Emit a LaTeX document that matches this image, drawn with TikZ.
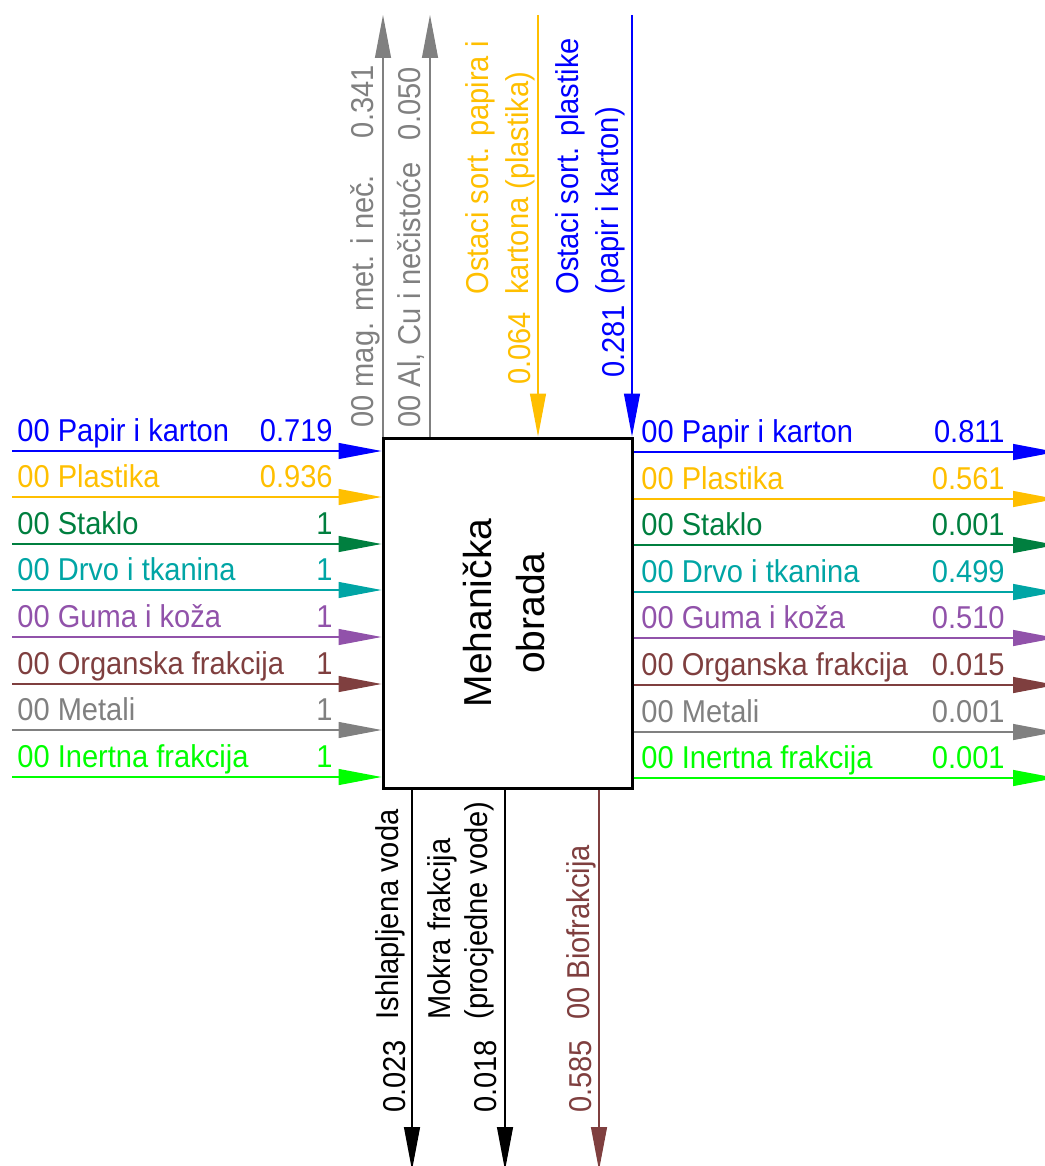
\documentclass[tikz,border=0pt]{standalone}
\usepackage{fontspec}
\usepackage{graphicx}
\setmainfont{Liberation Sans}
\newfontfamily\lblfamily[FakeStretch=0.92]{Liberation Sans}
\usetikzlibrary{arrows.meta}
\definecolor{flowblue}{RGB}{0,0,255}
\definecolor{floworange}{RGB}{255,191,0}
\definecolor{flowgreen}{RGB}{0,127,63}
\definecolor{flowteal}{RGB}{0,165,165}
\definecolor{flowpurple}{RGB}{145,82,170}
\definecolor{flowbrown}{RGB}{127,63,63}
\definecolor{flowgray}{RGB}{128,128,128}
\definecolor{flowlime}{RGB}{0,255,0}
\newcommand{\lblfont}{\lblfamily\fontsize{15.8pt}{19pt}\selectfont}
\newcommand{\boxfont}{\fontsize{19.5pt}{26.5pt}\selectfont}
\begin{document}
\begin{tikzpicture}[x=0.5pt,y=-0.5pt,
  flow/.style={line width=0.6pt,-{Triangle[length=21.5pt,width=8pt]}},
  lbl/.style={inner sep=0pt,font=\lblfont},
  vlbl/.style={lbl,rotate=90}]
\useasboundingbox (0,0) rectangle (1044,1166);
\node[draw,line width=1.5pt,minimum width=124.5pt,minimum height=175pt,inner sep=0pt] (obrada) at (507.5,613) {\rotatebox{90}{\boxfont\begin{tabular}{@{}c@{}}Mehanička\\obrada\end{tabular}}};

\coordinate (inpapir) at (12,451);
\coordinate (inplastika) at (12,497);
\coordinate (instaklo) at (12,544);
\coordinate (indrvo) at (12,590);
\coordinate (inguma) at (12,637);
\coordinate (inorg) at (12,684);
\coordinate (inmetali) at (12,730);
\coordinate (ininert) at (12,777);

\draw[flow,flowblue] (inpapir)--(inpapir -| obrada.west);
\draw[flow,floworange] (inplastika)--(inplastika -| obrada.west);
\draw[flow,flowgreen] (instaklo)--(instaklo -| obrada.west);
\draw[flow,flowteal] (indrvo)--(indrvo -| obrada.west);
\draw[flow,flowpurple] (inguma)--(inguma -| obrada.west);
\draw[flow,flowbrown] (inorg)--(inorg -| obrada.west);
\draw[flow,flowgray] (inmetali)--(inmetali -| obrada.west);
\draw[flow,flowlime] (ininert)--(ininert -| obrada.west);

\node[lbl,flowblue,anchor=base west] (linpapir) at (17,441) {00 Papir i karton};
\node[lbl,flowblue,anchor=base east] (vinpapir) at (333,441) {0.719};
\node[lbl,floworange,anchor=base west] (linplastika) at (17,487) {00 Plastika};
\node[lbl,floworange,anchor=base east] (vinplastika) at (333,487) {0.936};
\node[lbl,flowgreen,anchor=base west] (linstaklo) at (17,534) {00 Staklo};
\node[lbl,flowgreen,anchor=base east] (vinstaklo) at (333,534) {1};
\node[lbl,flowteal,anchor=base west] (lindrvo) at (17,580) {00 Drvo i tkanina};
\node[lbl,flowteal,anchor=base east] (vindrvo) at (333,580) {1};
\node[lbl,flowpurple,anchor=base west] (linguma) at (17,627) {00 Guma i koža};
\node[lbl,flowpurple,anchor=base east] (vinguma) at (333,627) {1};
\node[lbl,flowbrown,anchor=base west] (linorg) at (17,674) {00 Organska frakcija};
\node[lbl,flowbrown,anchor=base east] (vinorg) at (333,674) {1};
\node[lbl,flowgray,anchor=base west] (linmetali) at (17,720) {00 Metali};
\node[lbl,flowgray,anchor=base east] (vinmetali) at (333,720) {1};
\node[lbl,flowlime,anchor=base west] (lininert) at (17,767) {00 Inertna frakcija};
\node[lbl,flowlime,anchor=base east] (vininert) at (333,767) {1};

\coordinate (outpapir) at (1056,452);
\coordinate (outplastika) at (1056,499);
\coordinate (outstaklo) at (1056,545);
\coordinate (outdrvo) at (1056,592);
\coordinate (outguma) at (1056,638);
\coordinate (outorg) at (1056,685);
\coordinate (outmetali) at (1056,732);
\coordinate (outinert) at (1056,778);

\draw[flow,flowblue] (outpapir -| obrada.east)--(outpapir);
\draw[flow,floworange] (outplastika -| obrada.east)--(outplastika);
\draw[flow,flowgreen] (outstaklo -| obrada.east)--(outstaklo);
\draw[flow,flowteal] (outdrvo -| obrada.east)--(outdrvo);
\draw[flow,flowpurple] (outguma -| obrada.east)--(outguma);
\draw[flow,flowbrown] (outorg -| obrada.east)--(outorg);
\draw[flow,flowgray] (outmetali -| obrada.east)--(outmetali);
\draw[flow,flowlime] (outinert -| obrada.east)--(outinert);

\node[lbl,flowblue,anchor=base west] (loutpapir) at (641,442) {00 Papir i karton};
\node[lbl,flowblue,anchor=base east] (voutpapir) at (1005,442) {0.811};
\node[lbl,floworange,anchor=base west] (loutplastika) at (641,489) {00 Plastika};
\node[lbl,floworange,anchor=base east] (voutplastika) at (1005,489) {0.561};
\node[lbl,flowgreen,anchor=base west] (loutstaklo) at (641,535) {00 Staklo};
\node[lbl,flowgreen,anchor=base east] (voutstaklo) at (1005,535) {0.001};
\node[lbl,flowteal,anchor=base west] (loutdrvo) at (641,582) {00 Drvo i tkanina};
\node[lbl,flowteal,anchor=base east] (voutdrvo) at (1005,582) {0.499};
\node[lbl,flowpurple,anchor=base west] (loutguma) at (641,628) {00 Guma i koža};
\node[lbl,flowpurple,anchor=base east] (voutguma) at (1005,628) {0.510};
\node[lbl,flowbrown,anchor=base west] (loutorg) at (641,675) {00 Organska frakcija};
\node[lbl,flowbrown,anchor=base east] (voutorg) at (1005,675) {0.015};
\node[lbl,flowgray,anchor=base west] (loutmetali) at (641,722) {00 Metali};
\node[lbl,flowgray,anchor=base east] (voutmetali) at (1005,722) {0.001};
\node[lbl,flowlime,anchor=base west] (loutinert) at (641,768) {00 Inertna frakcija};
\node[lbl,flowlime,anchor=base east] (voutinert) at (1005,768) {0.001};

\coordinate (magmet) at (383,15);
\coordinate (alcu) at (430,15);
\coordinate (ostpapir) at (538,15);
\coordinate (ostplastika) at (632,15);

\draw[flow,flowgray] (magmet |- obrada.north)--(magmet);
\draw[flow,flowgray] (alcu |- obrada.north)--(alcu);
\draw[flow,floworange] (ostpapir)--(ostpapir |- obrada.north);
\draw[flow,flowblue] (ostplastika)--(ostplastika |- obrada.north);

\node[vlbl,flowgray,anchor=base west] (lmagmet) at (373,428) {00 mag. met. i neč.};
\node[vlbl,flowgray,anchor=base east] (vmagmet) at (373,65) {0.341};
\node[vlbl,flowgray,anchor=base west] (lalcu) at (420,428) {00 Al, Cu i nečistoće};
\node[vlbl,flowgray,anchor=base east] (valcu) at (420,67) {0.050};
\node[vlbl,floworange,anchor=base west] (lostpapira) at (488,295) {Ostaci sort. papira i};
\node[vlbl,floworange,anchor=base west] (lostpapirb) at (528,295) {kartona (plastika)};
\node[vlbl,floworange,anchor=base west] (vostpapir) at (530,385) {0.064};
\node[vlbl,flowblue,anchor=base west] (lostplastikaa) at (578,295) {Ostaci sort. plastike};
\node[vlbl,flowblue,anchor=base west] (lostplastikab) at (618,295) {(papir i karton)};
\node[vlbl,flowblue,anchor=base west] (vostplastika) at (624,378) {0.281};

\coordinate (voda) at (412,1170);
\coordinate (mokra) at (505,1170);
\coordinate (bio) at (599,1170);

\draw[flow,black] (voda |- obrada.south)--(voda);
\draw[flow,black] (mokra |- obrada.south)--(mokra);
\draw[flow,flowbrown] (bio |- obrada.south)--(bio);

\node[vlbl,black,anchor=base west] (lvoda) at (398,1020) {Ishlapljena voda};
\node[vlbl,black,anchor=base west] (vvoda) at (405,1113) {0.023};
\node[vlbl,black,anchor=base west] (lmokraa) at (450,1020) {Mokra frakcija};
\node[vlbl,black,anchor=base west] (lmokrab) at (487,1020) {(procjedne vode)};
\node[vlbl,black,anchor=base west] (vmokra) at (496,1113) {0.018};
\node[vlbl,flowbrown,anchor=base west] (lbio) at (589,1020) {00 Biofrakcija};
\node[vlbl,flowbrown,anchor=base west] (vbio) at (591,1113) {0.585};
\end{tikzpicture}
\end{document}
